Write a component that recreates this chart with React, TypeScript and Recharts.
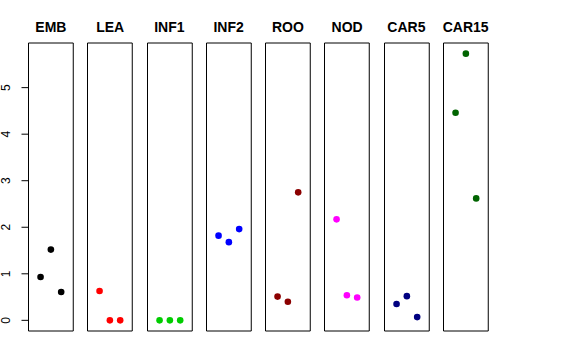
import { ScatterChart, Scatter, XAxis, YAxis, ReferenceArea } from 'recharts';

const tissues = ['EMB', 'LEA', 'INF1', 'INF2', 'ROO', 'NOD', 'CAR5', 'CAR15'];
const colors = ['#000000', '#FF0000', '#00CD00', '#0000FF', '#8B0000', '#FF00FF', '#000080', '#006400'];
const replicate = [1, 2, 3];

const EMB = [0.93, 1.52, 0.61];
const LEA = [0.63, 0.0, 0.0];
const INF1 = [0.0, 0.0, 0.0];
const INF2 = [1.82, 1.68, 1.96];
const ROO = [0.51, 0.4, 2.75];
const NOD = [2.17, 0.54, 0.49];
const CAR5 = [0.35, 0.52, 0.07];
const CAR15 = [4.46, 5.73, 2.62];
const values = [EMB, LEA, INF1, INF2, ROO, NOD, CAR5, CAR15];

const yTicks = [0, 1, 2, 3, 4, 5];
const X_DOMAIN: [number, number] = [-0.17, 4.17];
const Y_DOMAIN: [number, number] = [-0.229, 5.959];

const AXIS_W = 28.5;
const PANEL_W = 44.75;
const PANEL_H = 288;
const STEP = 59.25;
const TOP = 43;
const FONT = '"Liberation Sans", Arial, Helvetica, sans-serif';

const YTick = (props: any) => {
  const { x, y, payload } = props;
  const tx = x - 9.5;
  return (
    <text
      x={tx}
      y={y}
      transform={`rotate(-90, ${tx}, ${y})`}
      textAnchor="middle"
      fontSize={12}
      fontFamily={FONT}
      fontWeight="normal"
      fill="#000"
    >
      {payload.value}
    </text>
  );
};

const Dot = (props: any) => <circle cx={props.cx} cy={props.cy} r={3.3} fill={props.fill} />;

function Panel({ idx }: { idx: number }) {
  const data = replicate.map((r, j) => ({ x: r, y: values[idx][j] }));
  const first = idx === 0;
  return (
    <div style={{ position: 'absolute', left: idx * STEP, top: TOP - 2 }}>
      <ScatterChart
        width={AXIS_W + PANEL_W + 4}
        height={PANEL_H + 4}
        margin={{ top: 2, right: 4, bottom: 2, left: 0 }}
      >
        <XAxis type="number" dataKey="x" domain={X_DOMAIN} hide allowDataOverflow />
        <YAxis
          type="number"
          dataKey="y"
          domain={Y_DOMAIN}
          ticks={yTicks}
          width={AXIS_W}
          axisLine={false}
          tickLine={first ? { stroke: '#000' } : false}
          tickSize={7}
          tick={first ? <YTick /> : false}
          allowDataOverflow
        />
        <ReferenceArea
          x1={X_DOMAIN[0]}
          x2={X_DOMAIN[1]}
          y1={Y_DOMAIN[0]}
          y2={Y_DOMAIN[1]}
          fill="none"
          stroke="#000"
          strokeWidth={1}
          ifOverflow="visible"
        />
        <Scatter data={data} fill={colors[idx]} isAnimationActive={false} shape={<Dot />} />
      </ScatterChart>
      <div
        style={{
          position: 'absolute',
          left: AXIS_W - 10,
          width: PANEL_W + 20,
          top: -22,
          textAlign: 'center',
          fontFamily: FONT,
          fontWeight: 'bold',
          fontSize: 14,
          lineHeight: '16px',
          whiteSpace: 'nowrap',
        }}
      >
        {tissues[idx]}
      </div>
    </div>
  );
}

export default function App() {
  return (
    <div style={{ position: 'absolute', left: 0, top: 0, width: 576, height: 360, background: '#fff' }}>
      {tissues.map((t, i) => (
        <Panel key={t} idx={i} />
      ))}
    </div>
  );
}
